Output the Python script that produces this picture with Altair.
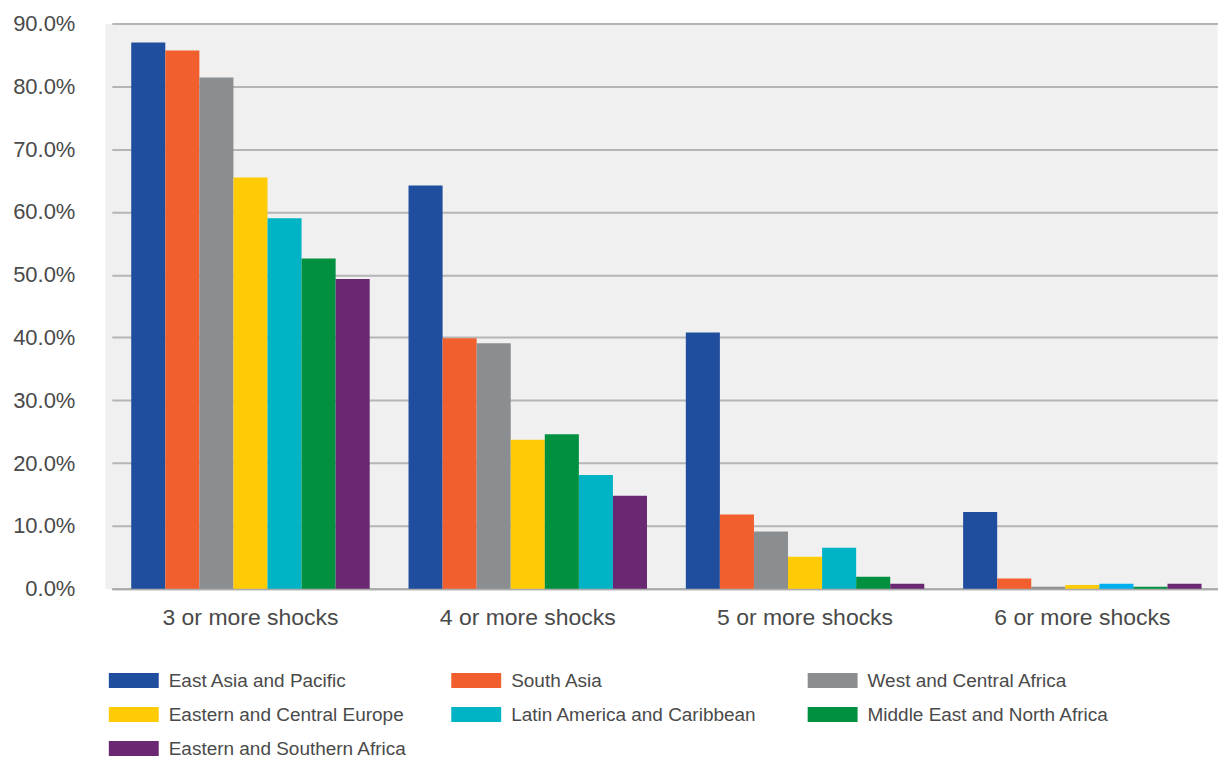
import altair as alt
import pandas as pd

groups = ["3 or more shocks", "4 or more shocks", "5 or more shocks", "6 or more shocks"]
regions = [
    "East Asia and Pacific",
    "South Asia",
    "West and Central Africa",
    "Eastern and Central Europe",
    "Latin America and Caribbean",
    "Middle East and North Africa",
    "Eastern and Southern Africa",
]
colors = ["#1F4E9F", "#F05F2D", "#8B8E90", "#FFCB05", "#00B4C6", "#00903F", "#6A2873"]

# share (%) per region, one value per group
east_asia_pacific = [87.0, 64.2, 40.8, 12.2]
south_asia = [85.7, 39.9, 11.8, 1.6]
west_central_africa = [81.4, 39.1, 9.1, 0.3]
eastern_central_europe = [65.5, 23.7, 5.1, 0.6]
latin_america_caribbean = [59.0, 18.1, 6.5, 0.8]
middle_east_north_africa = [52.6, 24.6, 1.9, 0.3]
eastern_southern_africa = [49.3, 14.8, 0.8, 0.8]

series = [
    east_asia_pacific, south_asia, west_central_africa, eastern_central_europe,
    latin_america_caribbean, middle_east_north_africa, eastern_southern_africa,
]

# bar order inside each group (the 4+ group shows MENA before LAC)
group_orders = {
    "4 or more shocks": [
        "East Asia and Pacific", "South Asia", "West and Central Africa",
        "Eastern and Central Europe", "Middle East and North Africa",
        "Latin America and Caribbean", "Eastern and Southern Africa",
    ]
}

rows = []
for gi, g in enumerate(groups):
    order = group_orders.get(g, regions)
    for ri, r in enumerate(regions):
        rows.append({"group": g, "region": r, "value": series[ri][gi], "slot": order.index(r)})
df = pd.DataFrame(rows)

FONT = "Liberation Sans"
TXT = "#4a4a4a"

color_enc = alt.Color("region:N", scale=alt.Scale(domain=regions, range=colors), legend=None)

main = alt.Chart(df).mark_bar().encode(
    x=alt.X(
        "group:N", sort=groups,
        scale=alt.Scale(range=[7, 1118], paddingInner=0.14, paddingOuter=0.07),
        axis=alt.Axis(title=None, labelAngle=0, ticks=False, tickSize=0, labelPadding=18,
                      labelFontSize=23, labelColor=TXT, labelFont=FONT,
                      domainColor="#AAAAAA", domainWidth=2, grid=False),
    ),
    xOffset=alt.XOffset("slot:O", scale=alt.Scale(paddingInner=0, paddingOuter=0)),
    y=alt.Y(
        "value:Q", scale=alt.Scale(domain=[0, 90], nice=False),
        axis=alt.Axis(title=None, values=list(range(0, 91, 10)),
                      labelExpr="format(datum.value, '.1f') + '%'",
                      ticks=False, tickSize=0, domain=False, labelPadding=30,
                      labelFontSize=22, labelColor=TXT, labelFont=FONT,
                      gridColor="#B5B5B5", gridWidth=2),
    ),
    color=alt.condition(
        "datum.group == '6 or more shocks' && datum.region == 'Latin America and Caribbean'",
        alt.value("#00AEEF"),
        color_enc,
    ),
).properties(width=1114, height=566, view=alt.ViewBackground(fill="#F0F0F0", stroke="transparent"))

leg_df = pd.DataFrame({
    "region": regions,
    "col": [i % 3 for i in range(len(regions))],
    "row": [i // 3 for i in range(len(regions))],
})

leg_base = alt.Chart(leg_df).encode(
    x=alt.X("col:Q", scale=alt.Scale(domain=[0, 1, 2], range=[4, 347, 704]), axis=None),
    y=alt.Y("row:Q", scale=alt.Scale(domain=[-0.5, 2.2], reverse=True), axis=None),
)
swatch = leg_base.mark_point(
    shape="M0,-0.3H2V0.3H0Z", size=2500, filled=True, opacity=1, strokeWidth=0
).encode(color=color_enc)
label = leg_base.mark_text(
    align="left", baseline="middle", dx=60, fontSize=19, font=FONT, color=TXT
).encode(text="region:N")

legend = alt.layer(swatch, label).properties(
    width=1114, height=92, view=alt.ViewBackground(fill="white", stroke="transparent")
)

chart = alt.vconcat(main, legend, spacing=32).properties(
    padding={"left": 12, "top": 11, "right": 0, "bottom": 0},
    background="white",
).configure_view(stroke="transparent")

chart.save("out.html", embed_options={"renderer": "svg", "actions": False})
